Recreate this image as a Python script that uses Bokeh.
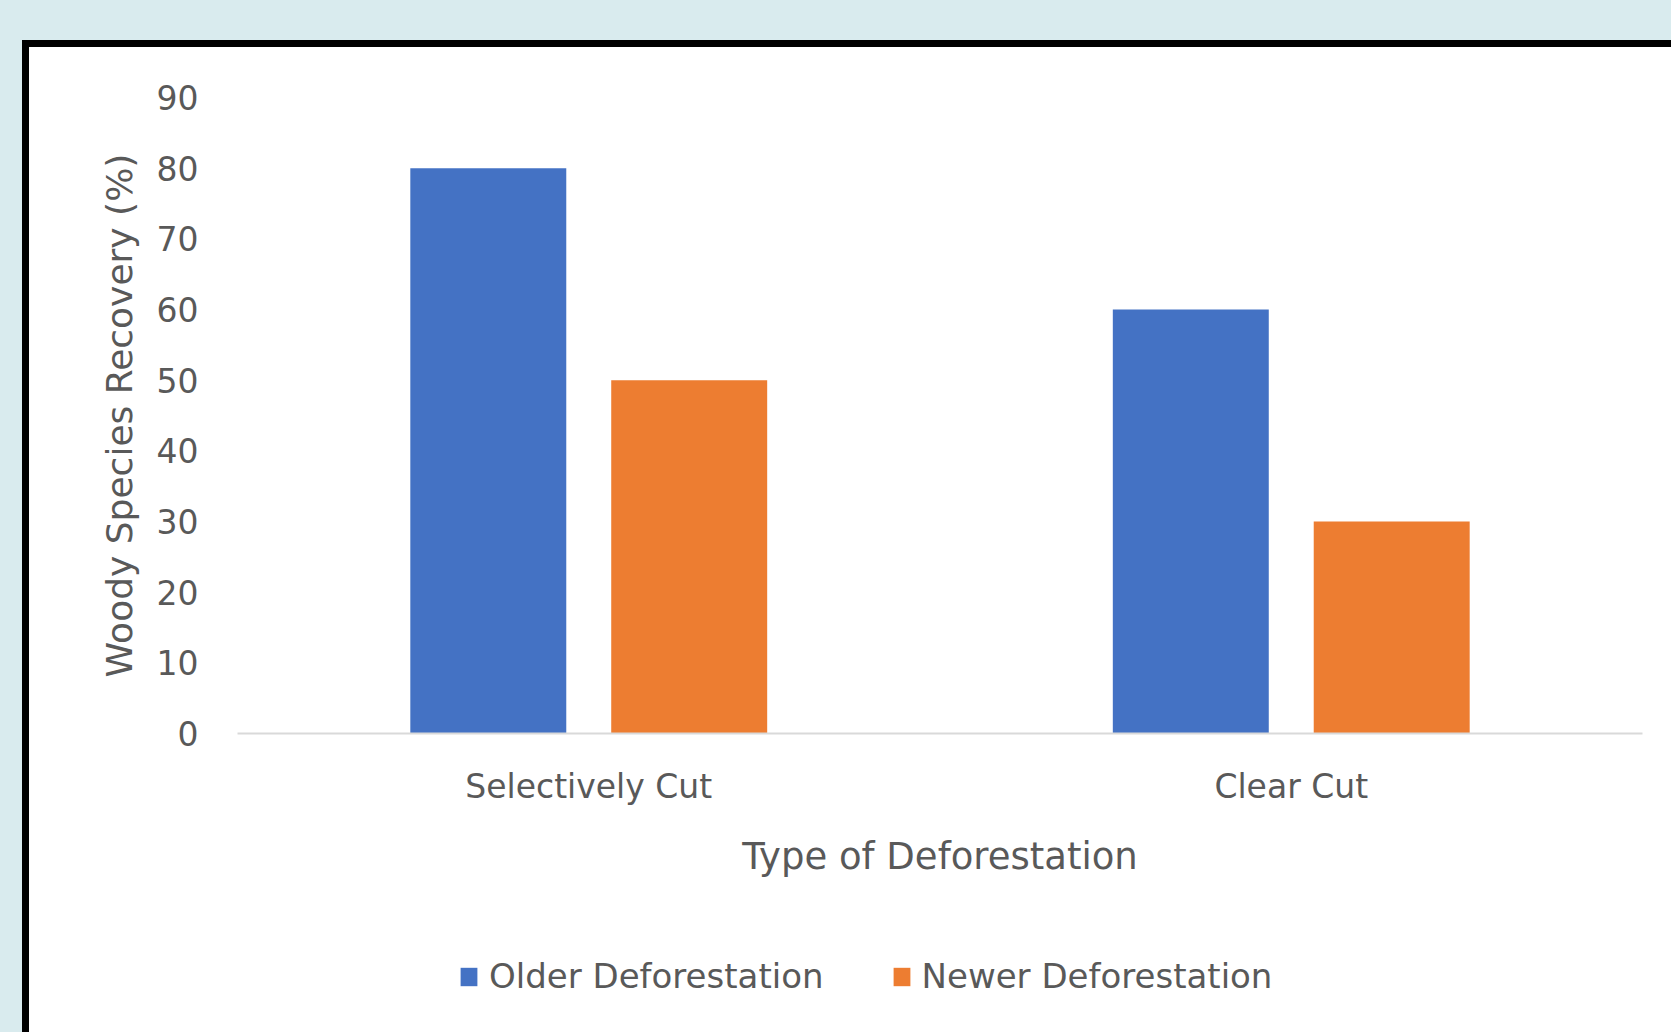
from bokeh.plotting import figure
from bokeh.models import (ColumnDataSource, FactorRange, Range1d, FixedTicker,
                          Legend, LegendItem, Spacer)
from bokeh.layouts import column, row
from bokeh.transform import dodge
from bokeh.embed import file_html
from bokeh.resources import INLINE

# ---- data ----
categories = ["Selectively Cut", "Clear Cut"]
older_deforestation = [80, 60]
newer_deforestation = [50, 30]
y_ticks = [0, 10, 20, 30, 40, 50, 60, 70, 80, 90]
series_names = ["Older Deforestation", "Newer Deforestation"]

BG = "#d9ebee"
BLUE = "#4472C4"
ORANGE = "#ED7D31"
TEXT = "#595959"
FONT = "DejaVu Sans"

src = ColumnDataSource(dict(cat=categories, older=older_deforestation,
                            newer=newer_deforestation))

# main chart: panel starts at x=29, y=47 on the page
p = figure(x_range=FactorRange(factors=categories), y_range=Range1d(0, 90),
           width=1642, height=853, output_backend="svg", toolbar_location=None,
           min_border_left=208, min_border_right=29, min_border_top=50,
           min_border_bottom=167)
p.background_fill_color = "white"
p.border_fill_color = "white"
p.outline_line_color = None
p.grid.grid_line_color = None

p.vbar(x=dodge("cat", -0.143, range=p.x_range), top="older", width=0.222,
       source=src, fill_color=BLUE, line_color=None)
p.vbar(x=dodge("cat", 0.143, range=p.x_range), top="newer", width=0.222,
       source=src, fill_color=ORANGE, line_color=None)

# y axis
p.yaxis.ticker = FixedTicker(ticks=y_ticks)
p.yaxis.axis_line_color = None
p.yaxis.major_tick_line_color = None
p.yaxis.minor_tick_line_color = None
p.yaxis.major_label_standoff = 33
p.yaxis.major_label_text_font = FONT
p.yaxis.major_label_text_font_size = "33px"
p.yaxis.major_label_text_color = TEXT
p.yaxis.axis_label = "Woody Species Recovery (%)"
p.yaxis.axis_label_text_font = FONT
p.yaxis.axis_label_text_font_size = "36px"
p.yaxis.axis_label_text_font_style = "normal"
p.yaxis.axis_label_text_color = TEXT
p.yaxis.axis_label_standoff = 14

# x axis
p.xaxis.axis_line_color = "#d9d9d9"
p.xaxis.axis_line_width = 2
p.xaxis.major_tick_line_color = None
p.xaxis.minor_tick_line_color = None
p.xaxis.major_label_standoff = 27
p.xaxis.major_label_text_font = FONT
p.xaxis.major_label_text_font_size = "33px"
p.xaxis.major_label_text_color = TEXT
p.xaxis.axis_label = "Type of Deforestation"
p.xaxis.axis_label_text_font = FONT
p.xaxis.axis_label_text_font_size = "37px"
p.xaxis.axis_label_text_font_style = "normal"
p.xaxis.axis_label_text_color = TEXT
p.xaxis.axis_label_standoff = 26

# legend strip below the chart (same white panel); its frame is aligned
# with the chart's frame by the column layout
pl = figure(width=1642, height=132, x_range=Range1d(0, 1), y_range=Range1d(0, 1),
            output_backend="svg", toolbar_location=None,
            x_axis_location=None, y_axis_location=None, min_border=0)
pl.background_fill_color = None
pl.border_fill_color = None
pl.outline_line_color = None
pl.grid.grid_line_color = None
# zero-height bars: nothing is drawn, only their legend swatches
lr1 = pl.vbar(x=[0.5], bottom=[0], top=[0], width=0.1, fill_color=BLUE,
              line_color=None)
lr2 = pl.vbar(x=[0.5], bottom=[0], top=[0], width=0.1, fill_color=ORANGE,
              line_color=None)

legend = Legend(items=[LegendItem(label=series_names[0], renderers=[lr1], index=0),
                       LegendItem(label=series_names[1], renderers=[lr2], index=0)],
                orientation="horizontal", location=(221, 36),
                glyph_width=21, glyph_height=23, label_standoff=10, spacing=67,
                padding=0, margin=0, border_line_color=None,
                background_fill_alpha=0,
                label_text_font=FONT, label_text_font_size="34px",
                label_text_color=TEXT)
pl.add_layout(legend)

black_left = Spacer(width=7, height=992, styles={"background-color": "black"})
black_top = Spacer(width=1642, height=7, styles={"background-color": "black"})
panel = column(black_top, p, pl, styles={"background-color": "white"})
layout = column(
    Spacer(width=1671, height=40),
    row(Spacer(width=22, height=992), black_left, panel),
    styles={"background-color": BG},
)

open("out.html", "w").write(file_html(layout, INLINE))
